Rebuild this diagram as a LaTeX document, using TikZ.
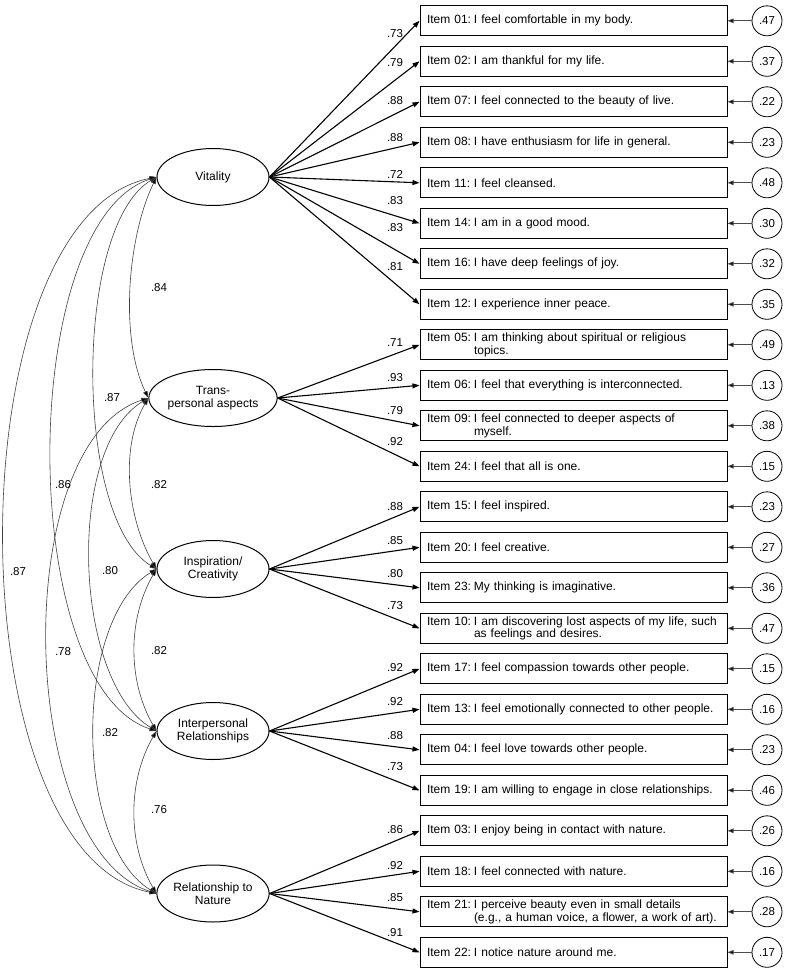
\documentclass[tikz,border=0pt]{standalone}
\usepackage{fontspec}
\setmainfont{Liberation Sans}
\usetikzlibrary{arrows.meta,shapes.geometric}
\newcommand\semitem[5]{%
  \node[itembox] (#1) at (573.5,#2) {\makebox[47pt][l]{Item #3:}#4};
  \node[errc] (#1e) at (767,#2) {#5};
  \draw[errarr] (#1e) -- (#1);
}
\begin{document}
\begin{tikzpicture}[x=1pt,y=-1pt,
  every node/.style={font=\fontsize{12}{12.5}\selectfont},
  latent/.style={draw, ellipse, line width=1pt, minimum width=112pt, minimum height=57pt, inner sep=0pt, align=center},
  itembox/.style={draw, line width=1pt, minimum width=307pt, minimum height=30pt, text width=293pt, inner xsep=7pt, inner ysep=1pt, align=left},
  errc/.style={draw, circle, line width=0.8pt, minimum size=30pt, inner sep=0pt, font=\fontsize{11.5}{12}\selectfont},
  load/.style={line width=1.1pt, -{Triangle[length=7pt,width=5pt]}},
  errarr/.style={draw=black!70, line width=0.8pt, -{Triangle[length=6pt,width=4.5pt,fill=black]}},
  corr/.style={draw=black!75, line width=0.6pt, {Triangle[length=7pt,width=4.5pt,fill=black]}-{Triangle[length=7pt,width=4.5pt,fill=black]}},
  lab/.style={inner sep=0pt, font=\fontsize{11.5}{12}\selectfont},
]
\useasboundingbox (0,0) rectangle (790,970);

% latent variables
\node[latent] (vit) at (213,177) {Vitality};
\node[latent] (tra) at (213,398) {Trans-\\personal aspects};
\node[latent] (ins) at (213,569) {Inspiration/\\Creativity};
\node[latent] (int) at (213,731) {Interpersonal\\Relationships};
\node[latent] (nat) at (213,893.5) {Relationship to\\Nature};

% items
\semitem{i01}{20.8}{01}{I feel comfortable in my body.}{.47}
\semitem{i02}{61.3}{02}{I am thankful for my life.}{.37}
\semitem{i07}{101.8}{07}{I feel connected to the beauty of live.}{.22}
\semitem{i08}{142.3}{08}{I have enthusiasm for life in general.}{.23}
\semitem{i11}{182.8}{11}{I feel cleansed.}{.48}
\semitem{i14}{223.3}{14}{I am in a good mood.}{.30}
\semitem{i16}{263.8}{16}{I have deep feelings of joy.}{.32}
\semitem{i12}{304.3}{12}{I experience inner peace.}{.35}
\semitem{i05}{344.8}{05}{I am thinking about spiritual or religious\\\hspace*{47pt}topics.}{.49}
\semitem{i06}{385.3}{06}{I feel that everything is interconnected.}{.13}
\semitem{i09}{425.8}{09}{I feel connected to deeper aspects of\\\hspace*{47pt}myself.}{.38}
\semitem{i24}{466.3}{24}{I feel that all is one.}{.15}
\semitem{i15}{506.8}{15}{I feel inspired.}{.23}
\semitem{i20}{547.3}{20}{I feel creative.}{.27}
\semitem{i23}{587.8}{23}{My thinking is imaginative.}{.36}
\semitem{i10}{628.3}{10}{I am discovering lost aspects of my life, such\\\hspace*{47pt}as feelings and desires.}{.47}
\semitem{i17}{668.8}{17}{I feel compassion towards other people.}{.15}
\semitem{i13}{709.3}{13}{I feel emotionally connected to other people.}{.16}
\semitem{i04}{749.8}{04}{I feel love towards other people.}{.23}
\semitem{i19}{790.3}{19}{I am willing to engage in close relationships.}{.46}
\semitem{i03}{830.8}{03}{I enjoy being in contact with nature.}{.26}
\semitem{i18}{871.3}{18}{I feel connected with nature.}{.16}
\semitem{i21}{911.8}{21}{I perceive beauty even in small details\\\hspace*{47pt}(e.g., a human voice, a flower, a work of art).}{.28}
\semitem{i22}{952.3}{22}{I notice nature around me.}{.17}

% loadings
\foreach \it in {i01,i02,i07,i08,i11,i14,i16,i12} \draw[load] (vit.east) -- (\it.west);
\foreach \it in {i05,i06,i09,i24} \draw[load] (tra.east) -- (\it.west);
\foreach \it in {i15,i20,i23,i10} \draw[load] (ins.east) -- (\it.west);
\foreach \it in {i17,i13,i04,i19} \draw[load] (int.east) -- (\it.west);
\foreach \it in {i03,i18,i21,i22} \draw[load] (nat.east) -- (\it.west);

% loading labels
\node[lab] (l01) at (395,34) {.73};
\node[lab] (l02) at (395,63) {.79};
\node[lab] (l07) at (395,101) {.88};
\node[lab] (l08) at (395,138) {.88};
\node[lab] (l11) at (395,174) {.72};
\node[lab] (l14) at (395,201) {.83};
\node[lab] (l16) at (395,228) {.83};
\node[lab] (l12) at (395,267) {.81};
\node[lab] (l05) at (395,343) {.71};
\node[lab] (l06) at (395,378) {.93};
\node[lab] (l09) at (395,411) {.79};
\node[lab] (l24) at (395,442) {.92};
\node[lab] (l15) at (395,507) {.88};
\node[lab] (l20) at (395,541) {.85};
\node[lab] (l23) at (395,574) {.80};
\node[lab] (l10) at (395,606) {.73};
\node[lab] (l17) at (395,668) {.92};
\node[lab] (l13) at (395,702) {.92};
\node[lab] (l04) at (395,736) {.88};
\node[lab] (l19) at (395,767) {.73};
\node[lab] (l03) at (395,830) {.86};
\node[lab] (l18) at (395,866) {.92};
\node[lab] (l21) at (395,898) {.85};
\node[lab] (l22) at (395,933) {.91};

% correlations
\draw[corr] (vit.west) .. controls +(-29,60) and +(-29,-60) .. (tra.west);
\draw[corr] (tra.west) .. controls +(-29,50) and +(-29,-50) .. (ins.west);
\draw[corr] (ins.west) .. controls +(-29,50) and +(-29,-50) .. (int.west);
\draw[corr] (int.west) .. controls +(-29,50) and +(-29,-50) .. (nat.west);
\draw[corr] (vit.west) .. controls +(-83,50) and +(-83,-50) .. (ins.west);
\draw[corr] (tra.west) .. controls +(-83,50) and +(-83,-50) .. (int.west);
\draw[corr] (ins.west) .. controls +(-83,50) and +(-83,-50) .. (nat.west);
\draw[corr] (vit.west) .. controls +(-140,45) and +(-140,-45) .. (int.west);
\draw[corr] (tra.west) .. controls +(-140,45) and +(-140,-45) .. (nat.west);
\draw[corr] (vit.west) .. controls +(-203,40) and +(-203,-40) .. (nat.west);

% correlation labels
\node[lab] (c1) at (159,288) {.84};
\node[lab] (c2) at (159,485) {.82};
\node[lab] (c3) at (159,651) {.82};
\node[lab] (c4) at (159,810) {.76};
\node[lab] (c5) at (112,398) {.87};
\node[lab] (c6) at (110,571) {.80};
\node[lab] (c7) at (110,733) {.82};
\node[lab] (c8) at (63,485) {.86};
\node[lab] (c9) at (63,652) {.78};
\node[lab] (c10) at (18,572) {.87};
\end{tikzpicture}
\end{document}
